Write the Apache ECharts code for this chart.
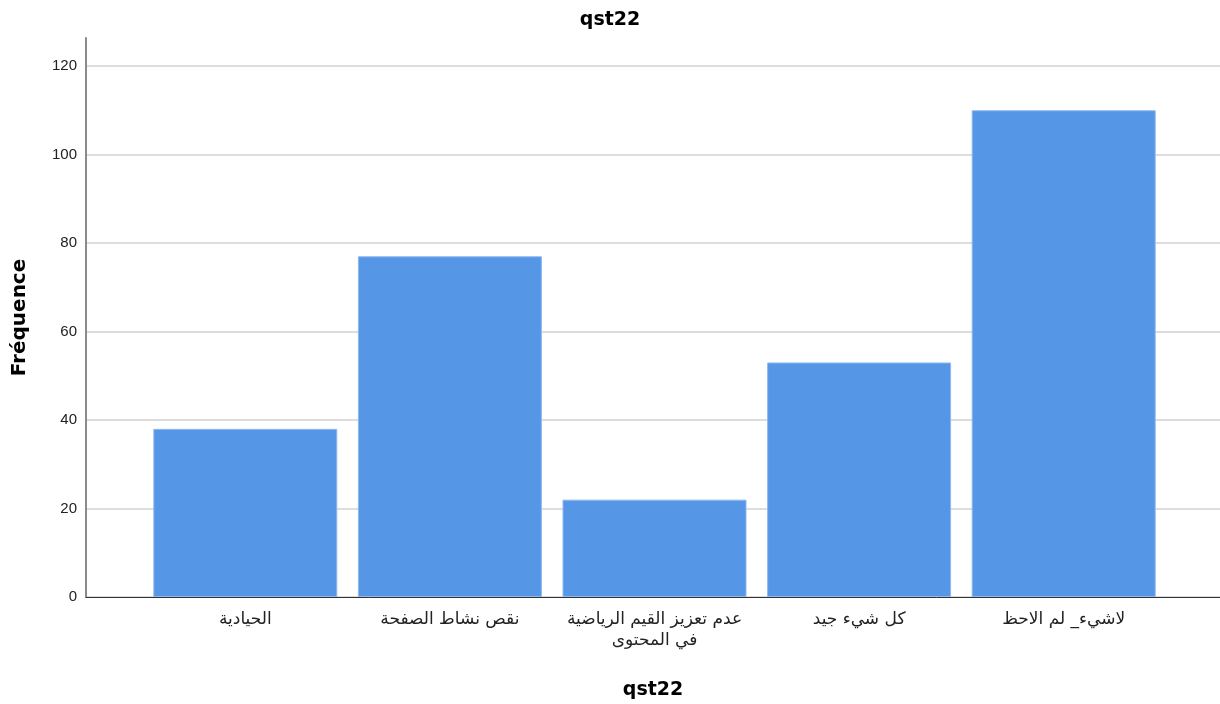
<!DOCTYPE html>
<html>
<head>
<meta charset="utf-8">
<script src="https://cdn.jsdelivr.net/npm/echarts@6/dist/echarts.min.js"></script>
<style>
  html, body { margin: 0; padding: 0; background: #fff; }
  #chart { width: 1220px; height: 704px; }
</style>
</head>
<body>
<div id="chart"></div>
<script>
// qst22 — frequency bar chart
const categories = [
  "الحيادية",
  "نقص نشاط الصفحة",
  "عدم تعزيز القيم الرياضية\nفي المحتوى",
  "كل شيء جيد",
  "لاشيء_ لم الاحظ"
];
const counts = [38, 77, 22, 53, 110];
const yTicks = [0, 20, 40, 60, 80, 100, 120];

const FONT = "DejaVu Sans, Liberation Sans, Arial, sans-serif";
const TICK_FONT = "Liberation Sans, Arial, sans-serif";
const chart = echarts.init(document.getElementById("chart"));
window.addEventListener("resize", () => chart.resize());

const yMax = yTicks[yTicks.length - 1];

chart.setOption({
  backgroundColor: "#fff",
  animation: false,
  title: {
    text: "qst22",
    left: "center",
    top: 6,
    textStyle: { fontFamily: FONT, fontSize: 19, fontWeight: "bold", color: "#000" }
  },
  grid: [
    // outer frame: y axis line + bottom axis line
    { left: 86, right: 0, top: 38, bottom: 107, outerBoundsMode: "none" },
    // gridlines + tick labels
    { left: 86, right: 0, top: 66, bottom: 107, outerBoundsMode: "none" },
    // bars
    { left: 143, right: 54, top: 66, bottom: 107, outerBoundsMode: "none" }
  ],
  xAxis: [
    {
      gridIndex: 0, type: "category", data: categories,
      name: "qst22", nameLocation: "middle", nameGap: 84,
      nameTextStyle: { fontFamily: FONT, fontSize: 19, fontWeight: "bold", color: "#000" },
      axisLine: { show: true, lineStyle: { color: "#333", width: 1 } },
      axisTick: { show: false }, axisLabel: { show: false }, splitLine: { show: false }
    },
    {
      gridIndex: 1, type: "category", data: categories, show: false
    },
    {
      gridIndex: 2, type: "category", data: categories,
      axisLine: { show: false }, axisTick: { show: false },
      axisLabel: {
        interval: 0, margin: 12, lineHeight: 21,
        fontFamily: FONT, fontSize: 17, color: "#222"
      }
    }
  ],
  yAxis: [
    {
      gridIndex: 0, type: "value", min: 0, max: 126.3,
      name: "Fréquence", nameLocation: "middle", nameGap: 56,
      nameTextStyle: { fontFamily: FONT, fontSize: 20, fontWeight: "bold", color: "#000" },
      axisLine: { show: true, lineStyle: { color: "#8a8a8a", width: 2 } },
      axisTick: { show: false }, axisLabel: { show: false }, splitLine: { show: false }
    },
    {
      gridIndex: 1, type: "value", min: 0, max: yMax, interval: 20,
      axisLine: { show: false }, axisTick: { show: false },
      axisLabel: { margin: 9, fontFamily: TICK_FONT, fontSize: 15, color: "#222" },
      splitLine: { show: true, lineStyle: { color: "#d2d2d2", width: 1.5 } }
    },
    {
      gridIndex: 2, type: "value", min: 0, max: yMax, show: false,
      splitLine: { show: false }
    }
  ],
  series: [{
    type: "bar",
    xAxisIndex: 2,
    yAxisIndex: 2,
    data: counts,
    barWidth: 184,
    itemStyle: { color: "#5596e6", borderColor: "#8fb9ee", borderWidth: 1 }
  }]
});
</script>
</body>
</html>
